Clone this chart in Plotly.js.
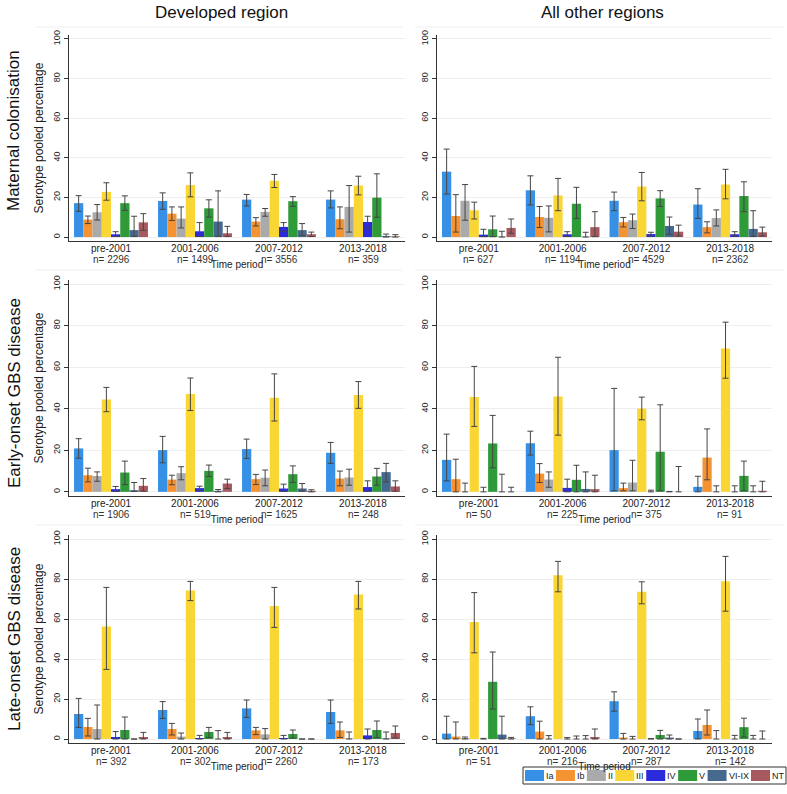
<!DOCTYPE html>
<html><head><meta charset="utf-8">
<script src="https://cdn.plot.ly/plotly-3.0.1.min.js"></script>
<style>body{margin:0;background:#fff}</style>
</head><body><div id="chart" style="width:787px;height:794px"></div>
<script>
// ---------- DATA ----------
const periods = ['pre-2001','2001-2006','2007-2012','2013-2018'];
const serotypes = ['Ia','Ib','II','III','IV','V','VI-IX','NT'];
const colors = ['#3590e6','#f59231','#aaaaaa','#fad634','#2b2bdc','#2f9a38','#46698f','#a65a60'];
const rowTitles = ['Maternal colonisation','Early-onset GBS disease','Late-onset GBS disease'];
const colTitles = ['Developed region','All other regions'];

// sample sizes per period
const MC_DEV_N = [2296,1499,3556,359];
const MC_OTH_N = [627,1194,4529,2362];
const EO_DEV_N = [1906,519,1625,248];
const EO_OTH_N = [50,225,375,91];
const LO_DEV_N = [392,302,2260,173];
const LO_OTH_N = [51,216,287,142];

// rows = serotypes (Ia..NT), columns = periods
const MC_DEV_EST = [[17.1,18.2,18.9,18.9],[8.8,11.8,7.8,9.0],[12.5,9.3,12.7,15.2],[22.8,26.2,28.4,26.0],[1.4,2.9,5.1,7.6],[17.1,14.5,18.1,19.9],[3.5,7.8,3.5,0.5],[7.4,1.9,1.4,0.3]];
const MC_DEV_LO  = [[13.0,14.0,15.7,14.7],[6.8,8.4,5.6,4.2],[8.6,4.6,10.5,2.5],[18.6,20.3,25.0,21.3],[0.3,0.3,2.9,4.4],[13.5,10.1,15.5,10.0],[0.3,0.3,0.7,0],[3.4,0.3,0.3,0]];
const MC_DEV_HI  = [[20.9,22.3,21.5,23.3],[10.6,15.2,9.8,15.2],[16.4,15.2,14.4,26.0],[27.4,32.4,31.6,30.7],[2.7,7.3,7.3,10.5],[20.8,18.8,20.4,31.9],[10.5,23.3,6.8,1.5],[11.8,5.4,2.5,1.2]];

const MC_OTH_EST = [[33.0,23.6,18.3,16.4],[10.6,10.1,7.5,5.0],[18.3,9.7,8.5,9.6],[13.5,21.0,25.5,26.5],[1.2,1.4,1.5,1.4],[3.9,16.8,19.5,20.7],[0.2,0.2,5.6,4.1],[4.6,5.0,2.7,2.4]];
const MC_OTH_LO  = [[21.7,16.2,13.3,9.4],[2.5,4.8,5.1,2.1],[8.5,2.6,4.3,5.6],[9.1,13.3,18.3,19.3],[0.2,0.3,0.5,0.5],[0.2,9.4,15.4,12.8],[0,0,1.4,0.3],[1.9,0.2,0.5,0.5]];
const MC_OTH_HI  = [[44.4,30.9,22.7,24.4],[21.4,15.4,9.9,7.7],[26.5,15.7,11.6,13.7],[17.6,29.6,32.6,34.2],[3.9,2.7,2.4,2.7],[10.6,25.1,23.4,27.9],[2.9,2.4,10.1,13.3],[9.1,12.8,6.0,5.0]];

const EO_DEV_EST = [[20.9,20.1,20.6,18.8],[8.0,5.9,6.1,6.4],[7.6,9.0,6.8,6.9],[44.5,47.1,45.3,46.6],[1.3,1.8,1.6,2.3],[9.3,10.1,8.5,7.4],[0.8,0.5,1.6,9.5],[2.9,4.0,0.5,2.6]];
const EO_DEV_LO  = [[16.2,14.0,16.1,13.7],[4.8,3.4,3.5,2.9],[5.1,5.8,2.9,3.2],[38.6,39.2,34.1,40.2],[0.3,0.6,0.3,0.3],[3.5,7.4,4.5,3.2],[0.2,0,0.3,4.8],[0.3,1.6,0,0.3]];
const EO_DEV_HI  = [[25.6,26.7,25.4,23.8],[11.4,8.0,8.4,10.0],[9.6,12.1,10.5,10.9],[50.3,54.8,56.8,53.1],[2.6,2.7,3.7,5.3],[14.8,12.9,12.5,11.3],[4.5,1.1,4.0,13.7],[6.4,6.1,1.0,5.3]];

const EO_OTH_EST = [[15.4,23.4,20.1,2.4],[6.1,8.8,1.8,16.5],[0,5.9,4.5,0],[45.7,45.9,40.1,69.0],[0,1.9,0,0],[23.3,5.8,19.3,7.7],[0,1.4,0,0],[0,1.3,0,0.5]];
const EO_OTH_LO  = [[5.3,17.7,0.5,0],[0,4.5,0.5,5.8],[0,2.2,0.5,0],[31.5,27.3,34.7,54.7],[0,0,0,0],[11.6,0,0.5,0.5],[0,0,0,0],[0,0,0,0]];
const EO_OTH_HI  = [[27.8,29.2,49.8,7.5],[15.7,13.6,4.2,30.3],[4.2,9.6,15.2,2.9],[60.4,64.8,45.6,81.7],[2.2,6.1,0.8,2.9],[36.8,12.8,41.9,14.8],[8.5,9.6,0.2,2.9],[2.2,8.0,12.2,5.1]];

const LO_DEV_EST = [[12.5,14.5,15.3,13.5],[6.0,5.0,4.3,4.3],[5.0,1.2,2.3,0.3],[56.2,74.2,66.5,72.3],[1.0,0.5,0.5,1.8],[4.5,3.5,2.5,4.5],[0,0,0,0.3],[1.0,1.0,0,3.0]];
const LO_DEV_LO  = [[5.8,10.3,10.8,7.8],[1.5,2.0,2.2,0.8],[0,0,0,0],[34.8,69.2,55.8,65.0],[0,0,0,0],[0,0.8,0.5,0.7],[0,0,0,0],[0,0,0,0.5]];
const LO_DEV_HI  = [[20.3,18.7,19.5,19.5],[10.3,7.8,5.8,8.5],[17.0,3.0,5.2,3.5],[75.8,78.8,75.8,78.8],[3.7,1.8,1.8,5.0],[11.0,5.8,4.5,9.0],[0,4.2,0,3.5],[3.3,3.3,0,6.5]];

const LO_OTH_EST = [[2.7,11.4,18.9,4.0],[1.2,3.7,0.7,7.0],[0.5,0,0,0],[58.5,81.9,73.6,78.9],[0,0,0,0],[28.6,0,2.0,5.9],[2.2,0,0.7,0],[0.3,1.0,0,0]];
const LO_OTH_LO  = [[0,7.2,13.9,0],[0,0,0,2.0],[0,0,0,0],[43.1,73.6,67.6,63.9],[0,0,0,0],[15.0,0,0,1.0],[0,0,0,0],[0,0,0,0]];
const LO_OTH_HI  = [[11.4,16.1,23.6,10.0],[8.5,8.9,2.8,14.5],[1.0,1.7,1.3,4.2],[73.2,88.8,78.6,91.3],[0.3,0.7,0.2,1.8],[43.5,1.5,4.3,10.4],[11.4,1.7,2.0,1.8],[0.8,5.0,0,4.0]];

// ---------- BUILD ----------
const panels = [
  {est:MC_DEV_EST, lo:MC_DEV_LO, hi:MC_DEV_HI, n:MC_DEV_N},
  {est:MC_OTH_EST, lo:MC_OTH_LO, hi:MC_OTH_HI, n:MC_OTH_N},
  {est:EO_DEV_EST, lo:EO_DEV_LO, hi:EO_DEV_HI, n:EO_DEV_N},
  {est:EO_OTH_EST, lo:EO_OTH_LO, hi:EO_OTH_HI, n:EO_OTH_N},
  {est:LO_DEV_EST, lo:LO_DEV_LO, hi:LO_DEV_HI, n:LO_DEV_N},
  {est:LO_OTH_EST, lo:LO_OTH_LO, hi:LO_OTH_HI, n:LO_OTH_N}
];

const W = 787, H = 794;
const FONT = 'Liberation Sans, Arial, sans-serif';
const colX = [[69,405],[437,772]];
const rowY = [[35,241],[280,496],[535,743]];
const fx = p => p / W;
const fy = p => 1 - p / H;

const traces = [];
const layout = {
  width: W, height: H,
  margin: {l:0, r:0, t:0, b:0},
  paper_bgcolor: '#ffffff', plot_bgcolor: '#ffffff',
  font: {family: FONT, color: '#222'},
  showlegend: false,
  barmode: 'group', bargap: 0.12, bargroupgap: 0,
  annotations: [], shapes: []
};

panels.forEach((p, i) => {
  const r = Math.floor(i / 2), c = i % 2;
  const suf = i === 0 ? '' : String(i + 1);
  const xa = 'x' + suf, ya = 'y' + suf;
  serotypes.forEach((s, k) => {
    traces.push({
      type: 'bar', name: s, x: periods, y: p.est[k],
      xaxis: xa, yaxis: ya,
      marker: {color: colors[k], line: {width: 0}},
      error_y: {
        type: 'data', symmetric: false,
        array: p.hi[k].map((h, j) => Math.max(0, h - p.est[k][j])),
        arrayminus: p.lo[k].map((l, j) => Math.max(0, p.est[k][j] - l)),
        color: '#454545', thickness: 1, width: 3
      },
      hoverinfo: 'skip'
    });
  });
  layout['xaxis' + suf] = {
    domain: [fx(colX[c][0]), fx(colX[c][1])], anchor: ya,
    type: 'category', range: [-0.5, 3.5],
    showline: true, linecolor: '#333', linewidth: 1,
    ticks: '', showgrid: false, zeroline: false,
    ticklabelstandoff: -2,
    tickfont: {size: 10, color: '#222'},
    title: {text: 'Time period', font: {size: 10, color: '#222'}, standoff: 7}
  };
  layout['yaxis' + suf] = {
    domain: [fy(rowY[r][1]), fy(rowY[r][0])], anchor: xa,
    range: [-2, 102], tickvals: [0,20,40,60,80,100],
    tickangle: -90, ticks: 'outside', ticklen: 4, tickcolor: '#333',
    showline: true, linecolor: '#333', linewidth: 1,
    showgrid: true, gridcolor: '#eeeeee', zeroline: false,
    tickfont: {size: 9, color: '#222'},
    title: c === 0 ? {text: 'Serotype pooled percentage', font: {size: 12, color: '#222'}, standoff: 6} : {text: ''}
  };
  // n= labels under tick labels
  periods.forEach((per, j) => {
    layout.annotations.push({
      xref: xa, yref: 'paper', x: per, y: fy(rowY[r][1] + 18),
      text: 'n= ' + p.n[j], showarrow: false, borderpad: 0,
      font: {size: 10, color: '#333'}, yanchor: 'middle'
    });
  });
});

// column titles
colTitles.forEach((t, c) => {
  layout.annotations.push({
    xref: 'paper', yref: 'paper', x: fx(c === 0 ? 221 : 602), y: fy(13),
    text: t, showarrow: false, font: {size: 17, color: '#111'},
    xanchor: 'center', yanchor: 'middle'
  });
});
// row titles
const rowCenters = [131, 393, 639];
rowTitles.forEach((t, r) => {
  layout.annotations.push({
    xref: 'paper', yref: 'paper', x: fx(14), y: fy(rowCenters[r]),
    text: t, showarrow: false, textangle: -90, font: {size: 17, color: '#111'},
    xanchor: 'center', yanchor: 'middle'
  });
});

// faint region separators
[27, 270, 525].forEach(py => {
  [[35, 402], [415, 785]].forEach(seg => {
    layout.shapes.push({type: 'line', xref: 'paper', yref: 'paper',
      x0: fx(seg[0]), x1: fx(seg[1]), y0: fy(py), y1: fy(py),
      line: {color: '#eeeeee', width: 1}});
  });
});

// legend (drawn manually; items spread to fill the legend box)
const ctx = document.createElement('canvas').getContext('2d');
ctx.font = '9px "Liberation Sans", Arial, sans-serif';
const legX0 = 523, legX1 = 786, legY0 = 767, legY1 = 784;
const swW = 19, txOff = 21;
const tws = serotypes.map(s => ctx.measureText(s).width);
const used = tws.reduce((a, b) => a + b, 0) + serotypes.length * txOff;
const gap = Math.max(1, (legX1 - legX0 - 4 - used) / (serotypes.length - 1));
let cx = legX0 + 2;
serotypes.forEach((s, k) => {
  layout.shapes.push({type: 'rect', xref: 'paper', yref: 'paper',
    x0: fx(cx), x1: fx(cx + swW), y0: fy(legY0 + 3), y1: fy(legY1 - 3),
    fillcolor: colors[k], line: {width: 0}});
  layout.annotations.push({xref: 'paper', yref: 'paper', x: fx(cx + txOff - 1), y: fy((legY0 + legY1) / 2),
    text: s, showarrow: false, xanchor: 'left', yanchor: 'middle',
    font: {size: 9, color: '#222'}, borderpad: 0});
  cx += txOff + tws[k] + gap;
});
layout.shapes.push({type: 'rect', xref: 'paper', yref: 'paper',
  x0: fx(legX0), x1: fx(legX1), y0: fy(legY1), y1: fy(legY0),
  fillcolor: 'rgba(0,0,0,0)', line: {color: '#333', width: 1}});

Plotly.newPlot('chart', traces, layout, {staticPlot: true, displayModeBar: false});
</script>
</body></html>
